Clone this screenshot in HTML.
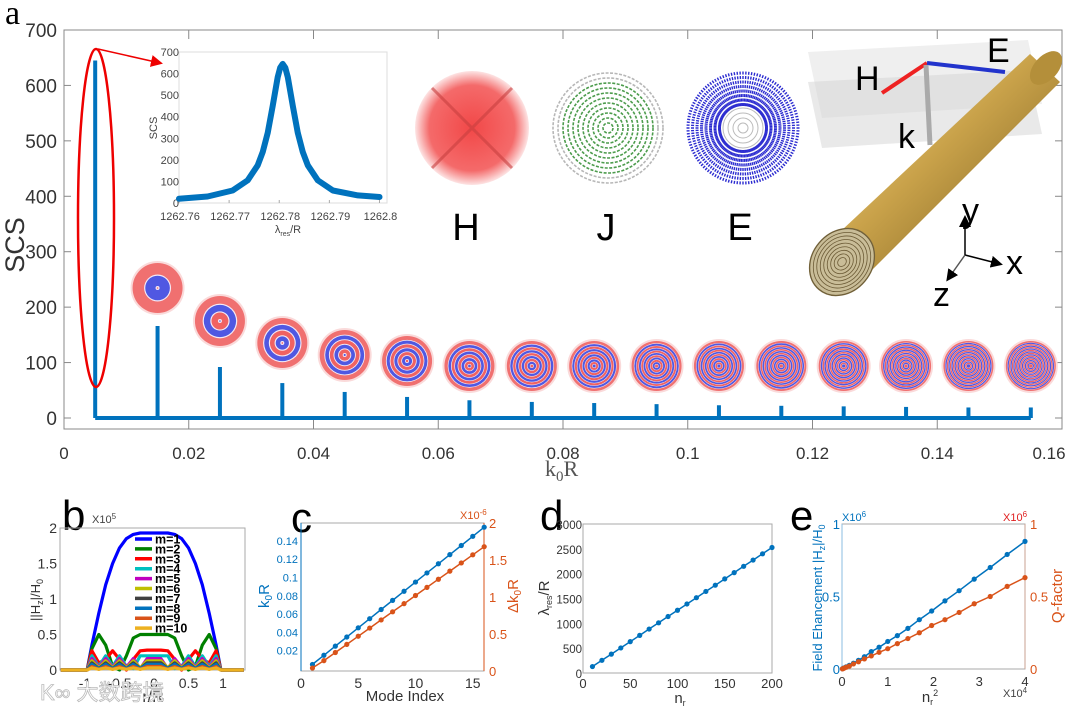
<!DOCTYPE html>
<html><head><meta charset="utf-8"><style>
html,body{margin:0;padding:0;background:#fff}
svg{display:block;font-family:"Liberation Sans",sans-serif}
</style></head><body>
<svg id="fig" width="1080" height="706" viewBox="0 0 1080 706" xmlns="http://www.w3.org/2000/svg">
<defs>
<radialGradient id="hGrad"><stop offset="0" stop-color="#f24848"/><stop offset="0.75" stop-color="#f46a6a"/><stop offset="1" stop-color="#fde4e4"/></radialGradient>
<linearGradient id="gold" x1="0" y1="0" x2="1" y2="1"><stop offset="0" stop-color="#f7e3a0"/><stop offset="0.45" stop-color="#c9a24a"/><stop offset="1" stop-color="#6e5418"/></linearGradient>
<marker id="arrR" markerWidth="8" markerHeight="8" refX="6" refY="4" orient="auto"><path d="M0,0 L8,4 L0,8 z" fill="#e00"/></marker>
<marker id="arrK" markerWidth="8" markerHeight="8" refX="6" refY="4" orient="auto"><path d="M0,0 L8,4 L0,8 z" fill="#000"/></marker>
</defs>
<g id="root"></g>
</svg>
<script>
// ===== data =====
const modeK = [0.005,0.015,0.025,0.035,0.045,0.055,0.065,0.075,0.085,0.095,0.105,0.115,0.125,0.135,0.145,0.155];
const modeSCS = [645,166,92,63,47,38,32,29,27,25,23,22,21,20,19,19];
const mainYTicks = [0,100,200,300,400,500,600,700];
const mainXTicks = [0,0.02,0.04,0.06,0.08,0.1,0.12,0.14,0.16];
const mainXLabels = ["0","0.02","0.04","0.06","0.08","0.1","0.12","0.14","0.16"];

const insetLam = [1262.76,1262.7657,1262.7707,1262.7737,1262.7757,1262.7767,1262.7777,1262.7787,1262.7797,1262.7802,1262.7807,1262.7812,1262.7817,1262.7827,1262.7837,1262.7847,1262.7857,1262.7877,1262.7907,1262.7957,1262.8];
const insetSCS = [20,30,58,105,175,236,325,450,583,627,645,627,583,450,325,236,175,105,58,35,28];
const insetXTicks = [1262.76,1262.77,1262.78,1262.79,1262.8];
const insetYTicks = [0,100,200,300,400,500,600,700];

const bR = [-1.35,-0.97,-0.9,-0.8,-0.7,-0.6,-0.5,-0.4,-0.3,-0.2,-0.1,0,0.1,0.2,0.3,0.4,0.5,0.6,0.7,0.8,0.9,0.97,1.3];
const bM1 = [0,0,0.35,0.8,1.2,1.5,1.72,1.85,1.91,1.93,1.93,1.93,1.93,1.93,1.91,1.85,1.72,1.5,1.2,0.8,0.35,0,0];
const bM2 = [0,0,0.3,0.5,0.35,0.05,0,0.2,0.45,0.5,0.5,0.5,0.5,0.5,0.45,0.2,0,0.05,0.35,0.5,0.3,0,0];
const bM3 = [0,0,0.27,0.1,0.15,0.27,0.15,0,0.15,0.27,0.28,0.28,0.28,0.27,0.15,0,0.15,0.27,0.15,0.1,0.27,0,0];
const bM4 = [0,0,0.2,0.05,0.2,0.05,0.2,0.05,0.02,0.2,0.2,0.2,0.2,0.2,0.02,0.05,0.2,0.05,0.2,0.05,0.2,0,0];
const bM5 = [0,0,0.16,0.04,0.16,0.04,0.16,0.04,0.16,0.02,0.16,0.16,0.16,0.02,0.16,0.04,0.16,0.04,0.16,0.04,0.16,0,0];
const bM6 = [0,0,0.13,0.03,0.13,0.03,0.13,0.03,0.13,0.03,0.13,0.13,0.13,0.03,0.13,0.03,0.13,0.03,0.13,0.03,0.13,0,0];
const bM7 = [0,0,0.1,0.02,0.1,0.02,0.1,0.02,0.1,0.02,0.1,0.1,0.1,0.02,0.1,0.02,0.1,0.02,0.1,0.02,0.1,0,0];
const bM8 = [0,0,0.08,0.02,0.08,0.02,0.08,0.02,0.08,0.02,0.08,0.08,0.08,0.02,0.08,0.02,0.08,0.02,0.08,0.02,0.08,0,0];
const bM9 = [0,0,0.05,0.01,0.05,0.01,0.05,0.01,0.05,0.01,0.05,0.05,0.05,0.01,0.05,0.01,0.05,0.01,0.05,0.01,0.05,0,0];
const bM10 = [0,0,0.03,0.01,0.03,0.01,0.03,0.01,0.03,0.01,0.03,0.03,0.03,0.01,0.03,0.01,0.03,0.01,0.03,0.01,0.03,0,0];
const bLabels = ["m=1","m=2","m=3","m=4","m=5","m=6","m=7","m=8","m=9","m=10"];

const cIndex = [1,2,3,4,5,6,7,8,9,10,11,12,13,14,15,16];
const cK0R = [0.005,0.015,0.025,0.035,0.045,0.055,0.065,0.075,0.085,0.095,0.105,0.115,0.125,0.135,0.145,0.155];
const cDk = [0.04,0.14,0.25,0.36,0.47,0.58,0.69,0.8,0.91,1.02,1.13,1.24,1.35,1.46,1.57,1.68];

const dNr = [10,20,30,40,50,60,70,80,90,100,110,120,130,140,150,160,170,180,190,200];
const dLam = [130,255,380,505,632,758,885,1010,1137,1263,1390,1516,1642,1768,1895,2021,2148,2274,2400,2527];

const eNr2 = [0.01,0.04,0.09,0.16,0.25,0.36,0.49,0.64,0.81,1.0,1.21,1.44,1.69,1.96,2.25,2.56,2.89,3.24,3.61,4.0];
const eField = [0.002,0.007,0.015,0.025,0.04,0.06,0.085,0.12,0.15,0.19,0.23,0.28,0.34,0.40,0.47,0.54,0.62,0.70,0.79,0.88];
const eQ = [0.001,0.005,0.012,0.02,0.035,0.05,0.07,0.09,0.115,0.14,0.175,0.21,0.25,0.30,0.34,0.39,0.45,0.50,0.57,0.63];

// ===== helpers =====
const NS = "http://www.w3.org/2000/svg";
const root = document.getElementById('root');
function mk(tag, attrs, parent, txt){
  const e = document.createElementNS(NS, tag);
  for (const k in attrs) e.setAttribute(k, attrs[k]);
  if (txt !== undefined) e.textContent = txt;
  (parent || root).appendChild(e);
  return e;
}
function grp(name){ const g = mk('g', {});   return g; }
function poly(xs, ys, fx, fy){ return xs.map((v,i)=>fx(v).toFixed(1)+','+fy(ys[i]).toFixed(1)).join(' '); }
const BLUE = '#0072BD', ORANGE = '#D95319';

// ===== Panel a =====
const gA = grp('panel-a');
const mx = v => 64 + v/0.16*998;
const my = v => 418 - v*0.5543;
let t = mk('text',{x:5,y:24,'font-size':34,'font-family':'Liberation Serif, serif'},gA,'a');
 
let box = mk('rect',{x:64,y:30,width:998,height:399,fill:'none',stroke:'#888','stroke-width':1},gA);
 
mainYTicks.forEach(v=>{
  const y = my(v);
  mk('line',{x1:64,y1:y,x2:71,y2:y,stroke:'#888'},gA);
  mk('line',{x1:1062,y1:y,x2:1055,y2:y,stroke:'#888'},gA);
  const l = mk('text',{x:57,y:y+7,'font-size':19,'text-anchor':'end',fill:'#333'},gA,String(v));
   
});
mainXTicks.forEach((v,i)=>{
  const x = mx(v);
  mk('line',{x1:x,y1:429,x2:x,y2:420,stroke:'#888'},gA);
  mk('line',{x1:x,y1:30,x2:x,y2:39,stroke:'#888'},gA);
  const l = mk('text',{x:Math.min(x,1049),y:459,'font-size':17,'text-anchor':'middle',fill:'#333'},gA,mainXLabels[i]);
   
});
t = mk('text',{x:24,y:245,'font-size':27,'text-anchor':'middle',fill:'#333',transform:'rotate(-90 24 245)'},gA,'SCS');
 
t = mk('text',{x:545,y:476,'font-size':22,fill:'#555','font-family':'Liberation Serif, serif'},gA);
t.innerHTML = 'k<tspan font-size="15" dy="5">0</tspan><tspan dy="-5">R</tspan>';
 
let bl = mk('line',{x1:mx(modeK[0]),y1:my(0),x2:mx(modeK[modeK.length-1]),y2:my(0),stroke:BLUE,'stroke-width':4},gA);
 
modeK.forEach((k,i)=>{
  const s = mk('line',{x1:mx(k),y1:my(0),x2:mx(k),y2:my(modeSCS[i]),stroke:BLUE,'stroke-width':4},gA);
   
});
// mode images
const modeCy = [288,321,343,355,361,366,366,366,366,366,366,366,366,366,366];
for (let m=1; m<=15; m++){
  const cx = mx(modeK[m]), cy = modeCy[m-1], R = 27;
  const g = mk('g',{},gA);
   
  mk('circle',{cx:cx,cy:cy,r:R,fill:'#fadada'},g);
  mk('circle',{cx:cx,cy:cy,r:R-2,fill:'#f07070'},g);
  const bands = m+1;
  const w = (R-4)/bands;
  for (let b=1;b<=bands;b++){
    const r = R-2-b*w;
    if (r<=0) break;
    const col = (b%2===1)?'#5058e2':'#f06262';
    mk('circle',{cx:cx,cy:cy,r:r,fill:'#f4e8f4'},g);
    mk('circle',{cx:cx,cy:cy,r:Math.max(r-Math.min(1.2,w*0.2),0.5),fill:col},g);
  }
}
let el = mk('ellipse',{cx:96,cy:218,rx:18,ry:169,fill:'none',stroke:'#e00','stroke-width':2.5},gA);
 
let ar = mk('line',{x1:98,y1:49,x2:160,y2:63,stroke:'#e00','stroke-width':1.5,'marker-end':'url(#arrR)'},gA);
 

// inset
const gI = grp('inset-resonance');
const ix = v => 179 + (v-1262.76)/0.0415*208;
const iy = v => 203 - v/700*151;
mk('rect',{x:179,y:52,width:208,height:151,fill:'#fff',stroke:'#ddd'},gI);
insetYTicks.forEach(v=>{ const l=mk('text',{x:179,y:iy(v)+4,'font-size':11,'text-anchor':'end',fill:'#444'},gI,String(v));   });
insetXTicks.forEach(v=>{ mk('line',{x1:ix(v),y1:203,x2:ix(v),y2:200,stroke:'#aaa'},gI); const l=mk('text',{x:ix(v)+1,y:220,'font-size':11,'text-anchor':'middle',fill:'#444'},gI,String(v));   });
t = mk('text',{x:157,y:128,'font-size':11,'text-anchor':'middle',fill:'#444',transform:'rotate(-90 157 128)'},gI,'SCS');  
t = mk('text',{x:288,y:233,'font-size':11,'text-anchor':'middle',fill:'#444'},gI); t.innerHTML='λ<tspan font-size="7" dy="3">res</tspan><tspan dy="-3">/R</tspan>';  
let ip = mk('polyline',{points:poly(insetLam,insetSCS,ix,iy),fill:'none',stroke:BLUE,'stroke-width':6,'stroke-linejoin':'round','stroke-linecap':'round'},gI);
 

// field images H J E
const gF = grp('field-maps');
const FY = 128, FR = 57;
function label(cx, name, txt){
  const l = mk('text',{x:cx,y:240,'font-size':38,'text-anchor':'middle',fill:'#000'},gF,txt);
   
}
let gH = mk('g',{},gF);  
mk('circle',{cx:472,cy:FY,r:FR,fill:'url(#hGrad)'},gH);
mk('path',{d:`M${472-40},${FY-40} L${472+40},${FY+40} M${472-40},${FY+40} L${472+40},${FY-40}`,stroke:'#c84040','stroke-width':3,opacity:0.6},gH);
label(466,'h-field-map','H');
let gJ = mk('g',{},gF);  
for (let r=5;r<FR;r+=5) mk('circle',{cx:608,cy:FY,r:r,fill:'none',stroke:r>45?'#aaa':'#2e8b2e','stroke-width':1.6,'stroke-dasharray':'3 1.5',opacity:0.85},gJ);
label(606,'j-field-map','J');
let gEm = mk('g',{},gF);  
for (let a=0;a<360;a+=3){ const rad=a*Math.PI/180; mk('line',{x1:743+22*Math.cos(rad),y1:FY+22*Math.sin(rad),x2:743+FR*Math.cos(rad),y2:FY+FR*Math.sin(rad),stroke:'#2b2bd0','stroke-width':1.4,'stroke-dasharray':'3 1.5'},gEm); }
for (let r=5;r<22;r+=5) mk('circle',{cx:743,cy:FY,r:r,fill:'none',stroke:'#bbb','stroke-width':1},gEm);
label(740,'e-field-map','E');

// illustration
const gS = grp('nanowire-illustration');
mk('polygon',{points:'808,52 1028,40 1042,104 822,118',fill:'#e4e4e4',opacity:0.6},gS);
mk('polygon',{points:'808,82 1028,70 1042,134 822,148',fill:'#d4d4d4',opacity:0.5},gS);
mk('polygon',{points:'826,245 1030,54 1060,82 860,282',fill:'url(#gold)'},gS);
mk('ellipse',{cx:1046,cy:68,rx:12,ry:20,fill:'#b48f3a',transform:'rotate(42 1046 68)'},gS);
const face = mk('g',{},gS);  
mk('ellipse',{cx:842,cy:262,rx:30,ry:36,fill:'#c9bd98',stroke:'#7a6a40',transform:'rotate(40 842 262)'},face);
for (let r=4;r<30;r+=3.2) mk('ellipse',{cx:842,cy:262,rx:r,ry:r*1.2,fill:'none',stroke:'#6b5a35','stroke-width':0.8,transform:'rotate(40 842 262)'},face);
let a1=mk('line',{x1:927,y1:63,x2:882,y2:93,stroke:'#e22','stroke-width':4},gS);  
let a2=mk('line',{x1:927,y1:63,x2:1005,y2:72,stroke:'#2233cc','stroke-width':4},gS);  
let a3=mk('line',{x1:926,y1:65,x2:930,y2:145,stroke:'#aaa','stroke-width':5},gS);  
[['H',855,90],['E',987,62],['k',898,148],['y',962,222],['x',1006,274],['z',933,306]].forEach(d=>{ const l=mk('text',{x:d[1],y:d[2],'font-size':34,fill:'#000'},gS,d[0]);   });
mk('line',{x1:965,y1:255,x2:965,y2:218,stroke:'#000','stroke-width':1.5,'marker-end':'url(#arrK)'},gS);
mk('line',{x1:965,y1:255,x2:1000,y2:264,stroke:'#000','stroke-width':1.5,'marker-end':'url(#arrK)'},gS);
mk('line',{x1:965,y1:255,x2:948,y2:279,stroke:'#555','stroke-width':1.5,'marker-end':'url(#arrK)'},gS);

// ===== Panel b =====
const gB = grp('panel-b');
const bx = v => 154 + v*69;
const by = v => 670 - v*71;
t=mk('text',{x:62,y:530,'font-size':42,fill:'#000'},gB,'b');  
mk('text',{x:92,y:523,'font-size':11,fill:'#444'},gB).innerHTML='X10<tspan font-size="8" dy="-4">5</tspan>';
mk('rect',{x:60,y:528,width:185,height:142,fill:'none',stroke:'#aaa'},gB);
[0,0.5,1,1.5,2].forEach(v=>{ const l=mk('text',{x:57,y:by(v)+5,'font-size':14,'text-anchor':'end',fill:'#333'},gB,String(v));   });
[-1,-0.5,0,0.5,1].forEach(v=>{ const l=mk('text',{x:bx(v),y:688,'font-size':14,'text-anchor':'middle',fill:'#333'},gB,String(v));   });
t=mk('text',{x:153,y:702,'font-size':16,'text-anchor':'middle',fill:'#333'},gB,'r/R');  
t=mk('text',{x:40,y:600,'font-size':13,'text-anchor':'middle',fill:'#333',transform:'rotate(-90 40 600)'},gB); t.innerHTML='||H<tspan font-size="9" dy="3">z</tspan><tspan dy="-3">|/H</tspan><tspan font-size="9" dy="3">0</tspan>';  
const bSeries = [bM1,bM2,bM3,bM4,bM5,bM6,bM7,bM8,bM9,bM10];
const bColors = ['#0000ff','#008000','#ff0000','#00bfbf','#bf00bf','#bfbf00','#404040','#0072BD','#D95319','#EDB120'];
bSeries.forEach((s,i)=>{
  const p = mk('polyline',{points:poly(bR,s,bx,by),fill:'none',stroke:bColors[i],'stroke-width':3.2,'stroke-linejoin':'round'},gB);
   
});
bLabels.forEach((lab,i)=>{
  const y = 539 + i*9.9;
  const g = mk('g',{},gB);  
  mk('line',{x1:135,y1:y,x2:152,y2:y,stroke:bColors[i],'stroke-width':3.5},g);
  mk('text',{x:155,y:y+4.5,'font-size':12.5,'font-weight':'bold',fill:'#000'},g,lab);
});

// ===== Panel c =====
const gC = grp('panel-c');
const cx_ = v => 301 + v*11.45;
const cy1 = v => 669 - v*915;
const cy2 = v => 671 - v*74;
t=mk('text',{x:291,y:532,'font-size':42,fill:'#000'},gC,'c');  
mk('rect',{x:301,y:523,width:183,height:148,fill:'none',stroke:'#aaa'},gC);
mk('line',{x1:301,y1:523,x2:301,y2:671,stroke:BLUE},gC);
mk('line',{x1:484,y1:523,x2:484,y2:671,stroke:ORANGE},gC);
[0.02,0.04,0.06,0.08,0.1,0.12,0.14].forEach(v=>{ const l=mk('text',{x:298,y:cy1(v)+4,'font-size':11,'text-anchor':'end',fill:BLUE},gC,String(v));   });
[0,0.5,1,1.5,2].forEach(v=>{ const l=mk('text',{x:489,y:cy2(v)+5,'font-size':13,fill:ORANGE},gC,String(v));   });
[0,5,10,15].forEach(v=>{ const l=mk('text',{x:cx_(v),y:688,'font-size':14,'text-anchor':'middle',fill:'#333'},gC,String(v));   });
mk('text',{x:460,y:519,'font-size':11,fill:ORANGE},gC).innerHTML='X10<tspan font-size="8" dy="-4">-6</tspan>';
t=mk('text',{x:405,y:701,'font-size':15,'text-anchor':'middle',fill:'#333'},gC,'Mode Index');  
t=mk('text',{x:269,y:596,'font-size':15,'text-anchor':'middle',fill:BLUE,transform:'rotate(-90 269 596)'},gC); t.innerHTML='k<tspan font-size="10" dy="3">0</tspan><tspan dy="-3">R</tspan>';  
t=mk('text',{x:518,y:596,'font-size':15,'text-anchor':'middle',fill:ORANGE,transform:'rotate(-90 518 596)'},gC); t.innerHTML='Δk<tspan font-size="10" dy="3">0</tspan><tspan dy="-3">R</tspan>';  
function series(g, xs, ys, fx, fy, col, name){
  const p = mk('polyline',{points:poly(xs,ys,fx,fy),fill:'none',stroke:col,'stroke-width':1.5},g);
   
  xs.forEach((x,i)=>{ const c=mk('circle',{cx:fx(x),cy:fy(ys[i]),r:2.6,fill:col},g);   });
}
series(gC,cIndex,cK0R,cx_,cy1,BLUE,'c-k0r');
series(gC,cIndex,cDk,cx_,cy2,ORANGE,'c-dk0r');

// ===== Panel d =====
const gD = grp('panel-d');
const dx = v => 583 + v/200*189;
const dy = v => 673 - v/3000*149;
t=mk('text',{x:540,y:530,'font-size':42,fill:'#000'},gD,'d');  
mk('rect',{x:583,y:524,width:189,height:149,fill:'none',stroke:'#aaa'},gD);
[0,500,1000,1500,2000,2500,3000].forEach(v=>{ const l=mk('text',{x:582,y:dy(v)+5,'font-size':11.5,'text-anchor':'end',fill:'#333'},gD,String(v));   });
[0,50,100,150,200].forEach(v=>{ const l=mk('text',{x:dx(v),y:688,'font-size':13,'text-anchor':'middle',fill:'#333'},gD,String(v));   });
t=mk('text',{x:680,y:703,'font-size':15,'text-anchor':'middle',fill:'#333'},gD); t.innerHTML='n<tspan font-size="9" dy="3">r</tspan>';  
t=mk('text',{x:549,y:598,'font-size':15,'text-anchor':'middle',fill:'#333',transform:'rotate(-90 549 598)'},gD); t.innerHTML='λ<tspan font-size="9" dy="3">res</tspan><tspan dy="-3">/R</tspan>';  
series(gD,dNr,dLam,dx,dy,BLUE,'d-lambda');

// ===== Panel e =====
const gE = grp('panel-e');
const ex = v => 842 + v/4*183;
const ey = v => 669 - v*145;
t=mk('text',{x:790,y:530,'font-size':42,fill:'#000'},gE,'e');  
mk('rect',{x:842,y:524,width:183,height:145,fill:'none',stroke:'#aaa'},gE);
mk('line',{x1:842,y1:524,x2:842,y2:669,stroke:'#8bbde0'},gE);
mk('line',{x1:1025,y1:524,x2:1025,y2:669,stroke:'#c9a090'},gE);
[0,0.5,1].forEach(v=>{
  const l=mk('text',{x:840,y:ey(v)+5,'font-size':13,'text-anchor':'end',fill:BLUE},gE,String(v));  
  const r=mk('text',{x:1030,y:ey(v)+5,'font-size':13,fill:ORANGE},gE,String(v));  
});
[0,1,2,3,4].forEach(v=>{ const l=mk('text',{x:ex(v),y:686,'font-size':13,'text-anchor':'middle',fill:'#333'},gE,String(v));   });
mk('text',{x:842,y:521,'font-size':11,fill:BLUE},gE).innerHTML='X10<tspan font-size="8" dy="-4">6</tspan>';
mk('text',{x:1003,y:521,'font-size':11,fill:'#e02020'},gE).innerHTML='X10<tspan font-size="8" dy="-4">6</tspan>';
mk('text',{x:1003,y:697,'font-size':11,fill:'#444'},gE).innerHTML='X10<tspan font-size="8" dy="-4">4</tspan>';
t=mk('text',{x:930,y:702,'font-size':15,'text-anchor':'middle',fill:'#333'},gE); t.innerHTML='n<tspan font-size="9" dy="3">r</tspan><tspan font-size="9" dy="-9">2</tspan>';  
t=mk('text',{x:822,y:598,'font-size':13,'text-anchor':'middle',fill:BLUE,transform:'rotate(-90 822 598)'},gE); t.innerHTML='Field Ehancement |H<tspan font-size="9" dy="3">z</tspan><tspan dy="-3">|/H</tspan><tspan font-size="9" dy="3">0</tspan>';  
t=mk('text',{x:1062,y:596,'font-size':15,'text-anchor':'middle',fill:ORANGE,transform:'rotate(-90 1062 596)'},gE,'Q-factor');  
series(gE,eNr2,eField,ex,ey,BLUE,'e-field');
series(gE,eNr2,eQ,ex,ey,ORANGE,'e-qfactor');

// watermark
t=mk('text',{x:40,y:700,'font-size':22,fill:'#fff',stroke:'#bbb','stroke-width':0.8,'font-family':'Liberation Sans, Noto Sans CJK SC, sans-serif'},root,'K∞ 大数跨境');
 
</script>
</body></html>
